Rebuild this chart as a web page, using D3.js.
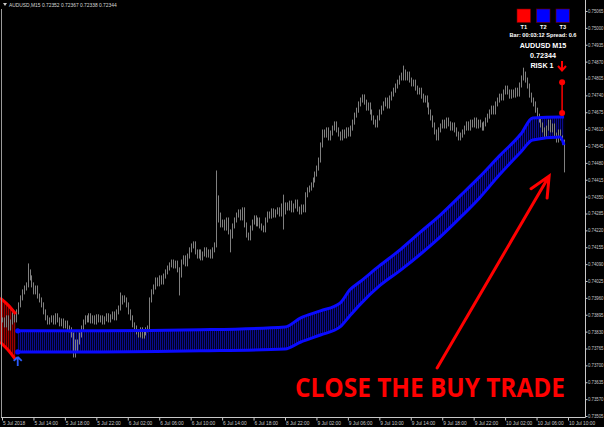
<!DOCTYPE html>
<html><head><meta charset="utf-8">
<script src="https://cdn.jsdelivr.net/npm/d3@7"></script>
<style>html,body{margin:0;padding:0;background:#000;overflow:hidden}svg{display:block}</style>
</head><body><svg id="c" width="604" height="427"></svg>
<script>
// ---- data (M15 bars, closes; open = previous close) ----
const closes = [
0.73875,0.73856,0.73883,0.73844,0.73867,0.73894,0.73875,0.73906,
0.73933,0.73960,0.73983,0.73998,0.74010,
0.74060,0.74037,
0.74010,0.73983,0.73998,0.73967,0.73952,
0.73933,0.73906,0.73883,0.73867,0.73875,
0.73883,0.73867,0.73891,0.73875,0.73860,0.73871,0.73852,0.73863,0.73844,0.73837,0.73817,
0.73779,0.73760,0.73790,0.73817,0.73844,
0.73867,0.73883,0.73875,0.73891,0.73871,0.73883,0.73867,0.73887,0.73875,0.73883,
0.73867,0.73879,0.73891,0.73875,0.73887,0.73898,0.73883,0.73906,0.73921,
0.73944,0.73960,0.73952,0.73933,
0.73906,0.73883,0.73856,0.73844,
0.73829,0.73817,0.73837,0.73813,0.73825,0.73837,0.73844,
0.73952,
0.73983,0.74002,0.74029,0.74014,0.74037,0.74021,0.74044,0.74060,0.74075,
0.74087,0.74098,0.74083,0.74094,0.74068,0.74048,
0.74098,0.74114,0.74091,0.74121,0.74145,0.74160,0.74168,
0.74137,0.74121,0.74137,0.74114,0.74129,0.74145,0.74125,0.74137,0.74121,0.74145,0.74164,
0.74345,
0.74279,0.74241,0.74252,
0.74229,0.74260,0.74214,0.74198,0.74237,0.74260,
0.74279,0.74291,0.74268,0.74299,0.74241,
0.74202,0.74191,
0.74229,0.74252,0.74268,0.74245,0.74260,0.74237,
0.74229,0.74222,
0.74260,0.74283,0.74275,0.74295,0.74279,0.74291,0.74299,0.74283,
0.74314,0.74291,
0.74318,0.74306,0.74325,0.74299,0.74314,0.74329,0.74302,0.74291,0.74310,0.74299,
0.74357,0.74376,0.74383,0.74395,0.74414,
0.74437,0.74460,0.74491,
0.74549,0.74599,
0.74587,0.74607,0.74576,0.74595,0.74614,
0.74630,
0.74607,0.74591,0.74576,0.74599,0.74584,0.74607,0.74591,0.74614,
0.74637,0.74664,0.74683,0.74707,0.74722,0.74734,0.74714,0.74691,0.74703,0.74676,0.74653,0.74637,0.74626,
0.74653,0.74676,0.74691,0.74707,0.74722,0.74699,0.74730,0.74745,0.74760,0.74776,0.74791,0.74807,0.74818,0.74830,
0.74807,0.74822,0.74799,0.74784,0.74791,0.74768,0.74753,0.74760,0.74737,0.74722,0.74730,
0.74703,0.74676,0.74653,0.74626,0.74599,0.74576,
0.74607,0.74622,0.74637,0.74622,0.74645,0.74630,0.74614,0.74626,0.74607,0.74591,0.74576,0.74587,
0.74599,0.74614,0.74630,0.74614,0.74637,0.74626,0.74645,0.74622,0.74637,0.74626,0.74614,0.74630,0.74645,
0.74660,0.74676,0.74691,0.74676,0.74707,0.74722,0.74737,0.74730,0.74753,0.74768,0.74753,0.74737,0.74753,0.74741,0.74760,0.74745,
0.74780,0.74807,0.74822,0.74799,0.74776,0.74741,0.74722,0.74707,0.74683,0.74660,0.74645,0.74626,0.74607,0.74587,
0.74614,0.74637,0.74607,0.74622,0.74587,0.74568,0.74599,0.74576,0.74560,0.74460
];
// notable wicks: [bar, high, low]
const wicks = [
[13,0.74083,0.74010],[36,0.73790,0.73740],[37,0.73790,0.73740],[60,0.73971,0.73921],
[90,0.74068,0.73979],[109,0.74441,0.74164],[110,0.74345,0.74260],[116,0.74214,0.74145],
[143,0.74348,0.74233],[204,0.74845,0.74807],[265,0.74837,0.74807],[286,0.74560,0.74453]
];
// channel (buy zone) vertices
const bandIdx   = [8,50,101,144,152,162,172,177,182,192,203,213,223,233,243,253,264,270,284,286];
const bandUpper = [0.73833,0.73833,0.73837,0.73848,0.73883,0.73910,0.73940,0.73991,0.74021,0.74083,0.74148,0.74214,0.74279,0.74352,0.74426,0.74506,0.74591,0.74653,0.74657,0.74657];
const bandLower = [0.73752,0.73752,0.73756,0.73763,0.73790,0.73817,0.73848,0.73891,0.73933,0.74006,0.74068,0.74129,0.74195,0.74268,0.74345,0.74433,0.74522,0.74568,0.74580,0.74549];
// previous (sell zone) band
const sellIdx   = [-1,3,7];
const sellUpper = [0.73960,0.73933,0.73898];
const sellLower = [0.73790,0.73760,0.73721];
// risk markers
const riskIdx = 285, riskTop = 0.74791, riskBot = 0.74672;
// axis ticks
const priceTicks = ["0.75065","0.75000","0.74935","0.74870","0.74805","0.74740","0.74675","0.74610","0.74545","0.74480","0.74415","0.74350","0.74285","0.74220","0.74155","0.74090","0.74025","0.73960","0.73895","0.73830","0.73765","0.73700","0.73635","0.73570","0.73505"];
const timeIdx = [0,16,32,48,64,80,96,112,128,144,160,176,192,208,224,240,256,272,288];
const timeLabels = ["5 Jul 2018","5 Jul 14:00","5 Jul 18:00","5 Jul 22:00","6 Jul 02:00","6 Jul 06:00","6 Jul 10:00","6 Jul 14:00","6 Jul 18:00","8 Jul 22:00","9 Jul 02:00","9 Jul 06:00","9 Jul 10:00","9 Jul 14:00","9 Jul 18:00","9 Jul 22:00","10 Jul 02:00","10 Jul 06:00","10 Jul 10:00"];
// annotation (in data coords)
const arrowTail = [221.4, 0.73690], arrowTip = [278.4, 0.74429];
const titleText = "AUDUSD,M15  0.72352 0.72367 0.72338 0.72344";
const panelLines = ["Bar: 00:03:12 Spread: 0.6","AUDUSD M15","0.72344","RISK 1"];
const boxes = [{t:"T1",c:"#ff0000"},{t:"T2",c:"#0000ff"},{t:"T3",c:"#0000ff"}];

// ---- drawing ----
const W=604,H=427, R=585, B=417;
const svg = d3.select("#c");
svg.append("rect").attr("width",W).attr("height",H).attr("fill","#000");
const x = d3.scaleLinear().domain([0,288]).range([2,568]);
const y = d3.scaleLinear().domain([0.73505,0.75065]).range([416,11]);

const defs = svg.append("defs");
const pb = defs.append("pattern").attr("id","hb").attr("patternUnits","userSpaceOnUse").attr("width",2).attr("height",4);
pb.append("rect").attr("width",2).attr("height",4).attr("fill","#000020");
pb.append("rect").attr("width",1).attr("height",4).attr("fill","#0c0c8c");
const pr = defs.append("pattern").attr("id","hr").attr("patternUnits","userSpaceOnUse").attr("width",2).attr("height",4);
pr.append("rect").attr("width",2).attr("height",4).attr("fill","#300000");
pr.append("rect").attr("width",1).attr("height",4).attr("fill","#a00000");

const clip = defs.append("clipPath").attr("id","plot");
clip.append("rect").attr("x",0).attr("y",0).attr("width",R).attr("height",B);
const g = svg.append("g").attr("clip-path","url(#plot)");

// zones
const band = bandIdx.map((d,i)=>({i:d,u:bandUpper[i],l:bandLower[i]}));
const sell = sellIdx.map((d,i)=>({i:d,u:sellUpper[i],l:sellLower[i]}));
const area = d3.area().x(d=>x(d.i)).y0(d=>y(d.l)).y1(d=>y(d.u)).curve(d3.curveMonotoneX);
g.append("path").datum(sell).attr("d",area).attr("fill","url(#hr)");
g.append("path").datum(band).attr("d",area).attr("fill","url(#hb)");

// bars
const bars = closes.map((c,i)=>{
  const o = i>0 ? closes[i-1] : c;
  let hi=Math.max(o,c), lo=Math.min(o,c);
  const w = wicks.find(k=>k[0]===i);
  if(w){hi=Math.max(hi,w[1]);lo=Math.min(lo,w[2]);}
  return {i,hi,lo};
});
g.append("g").selectAll("line").data(bars).join("line")
  .attr("x1",d=>Math.round(x(d.i))+0.5).attr("x2",d=>Math.round(x(d.i))+0.5)
  .attr("y1",d=>y(d.hi)-2.5).attr("y2",d=>y(d.lo)+2.5)
  .attr("stroke","#808080").attr("stroke-width",1);

// zone lines
const lineU = d3.line().x(d=>x(d.i)).y(d=>y(d.u)).curve(d3.curveMonotoneX);
const lineL = d3.line().x(d=>x(d.i)).y(d=>y(d.l)).curve(d3.curveMonotoneX);
[lineU,lineL].forEach(l=>{
  g.append("path").datum(sell).attr("d",l).attr("fill","none").attr("stroke","#ff0000").attr("stroke-width",3);
  g.append("path").datum(band).attr("d",l).attr("fill","none").attr("stroke","#0a0aff").attr("stroke-width",3);
});
// start dots + buy arrow
[band[0].u,band[0].l].forEach(v=>g.append("circle").attr("cx",x(band[0].i)).attr("cy",y(v)).attr("r",2.6).attr("fill","#0a0aff"));
{
  const ax=x(band[0].i), ay=y(band[0].l)+10;
  g.append("path").attr("d",`M${ax},${ay-5} L${ax-4},${ay-1} M${ax},${ay-5} L${ax+4},${ay-1} M${ax},${ay-5} L${ax},${ay+4}`)
   .attr("stroke","#2a5cff").attr("stroke-width",1.8).attr("fill","none");
}
// risk markers
g.append("line").attr("x1",x(riskIdx)).attr("x2",x(riskIdx)).attr("y1",y(riskTop)).attr("y2",y(riskBot)).attr("stroke","#ff0000").attr("stroke-width",1.5);
[riskTop,riskBot].forEach(v=>g.append("circle").attr("cx",x(riskIdx)).attr("cy",y(v)).attr("r",3).attr("fill","#ff0000"));

// frame
svg.append("line").attr("x1",1.5).attr("x2",1.5).attr("y1",9).attr("y2",B).attr("stroke","#9a9a9a");
svg.append("line").attr("x1",R+0.5).attr("x2",R+0.5).attr("y1",0).attr("y2",B+0.5).attr("stroke","#c8c8c8");
svg.append("line").attr("x1",1).attr("x2",R+0.5).attr("y1",B+0.5).attr("y2",B+0.5).attr("stroke","#c8c8c8");

// axes
const axFont = "'Liberation Sans', Arial, sans-serif";
const ya = svg.append("g").attr("transform",`translate(${R+0.5},0)`)
  .call(d3.axisRight(y).tickValues(priceTicks.map(Number)).tickFormat((d,i)=>priceTicks[i]).tickSize(2).tickPadding(0.5));
ya.select(".domain").remove();
ya.selectAll("line").attr("stroke","#c8c8c8");
ya.selectAll("text").attr("fill","#c8c8c8").attr("textLength",15.5).attr("lengthAdjust","spacingAndGlyphs")
  .style("font-family",axFont).style("font-size","4.6px");

const xa = svg.append("g").attr("transform",`translate(0,${B+0.5})`)
  .call(d3.axisBottom(x).tickValues(timeIdx).tickFormat((d,i)=>timeLabels[i]).tickSize(3).tickPadding(1.5));
xa.select(".domain").remove();
xa.selectAll("line").attr("stroke","#c8c8c8");
xa.selectAll("text").attr("fill","#c8c8c8").attr("text-anchor","start").attr("dx","0.1em")
  .style("font-family",axFont).style("font-size","4.8px");

// title
svg.append("path").attr("d","M3,3 L7,3 L5,6 Z").attr("fill","#c8c8c8");
svg.append("text").attr("x",9).attr("y",7).text(titleText).attr("fill","#d8d8d8")
  .style("font-family",axFont).style("font-size","4.9px");

// info panel
const bf = "'Liberation Sans', Arial, sans-serif";
boxes.forEach((b,i)=>{
  const bx = 517 + i*19.5;
  svg.append("rect").attr("x",bx).attr("y",9).attr("width",13.5).attr("height",13.5).attr("fill",b.c).attr("stroke","#700000").attr("stroke-width",0.6);
  svg.append("text").attr("x",bx+6.75).attr("y",29).attr("text-anchor","middle").text(b.t)
    .attr("fill","#fff").style("font-family",bf).style("font-weight","bold").style("font-size","5.6px");
});
const pl = [[36.5,5.6],[47.5,7.2],[57.5,7.2],[68,7.2]];
panelLines.forEach((t,i)=>{
  svg.append("text").attr("x", i===3?542:543).attr("y",pl[i][0]).attr("text-anchor","middle").text(t)
    .attr("fill","#fff").style("font-family",bf).style("font-weight","bold").style("font-size",pl[i][1]+"px");
});
// risk down arrow
svg.append("path").attr("d","M562,61 L562,70 M558,66 L562,70.5 L566,66").attr("stroke","#ff0000").attr("stroke-width",2).attr("fill","none");

// big arrow
{
  const tx=x(arrowTail[0]), ty=y(arrowTail[1]), hx=x(arrowTip[0]), hy=y(arrowTip[1]);
  const L=Math.hypot(tx-hx,ty-hy), ux=(tx-hx)/L, uy=(ty-hy)/L, a=25*Math.PI/180, hl=22;
  const w1=[hx+hl*(ux*Math.cos(a)-uy*Math.sin(a)), hy+hl*(ux*Math.sin(a)+uy*Math.cos(a))];
  const w2=[hx+hl*(ux*Math.cos(a)+uy*Math.sin(a)), hy+hl*(-ux*Math.sin(a)+uy*Math.cos(a))];
  svg.append("path").attr("d",`M${tx},${ty} L${hx},${hy} M${w1[0]},${w1[1]} L${hx},${hy} L${w2[0]},${w2[1]}`)
    .attr("stroke","#ff0000").attr("stroke-width",3).attr("fill","none").attr("stroke-linecap","round");
}
svg.append("text").attr("x",295).attr("y",397).text("CLOSE THE BUY TRADE")
  .attr("fill","#ff0000").attr("textLength",270).attr("lengthAdjust","spacingAndGlyphs")
  .style("font-family","'Open Sans', sans-serif").style("font-weight","bold").style("font-size","26px");
</script></body></html>
